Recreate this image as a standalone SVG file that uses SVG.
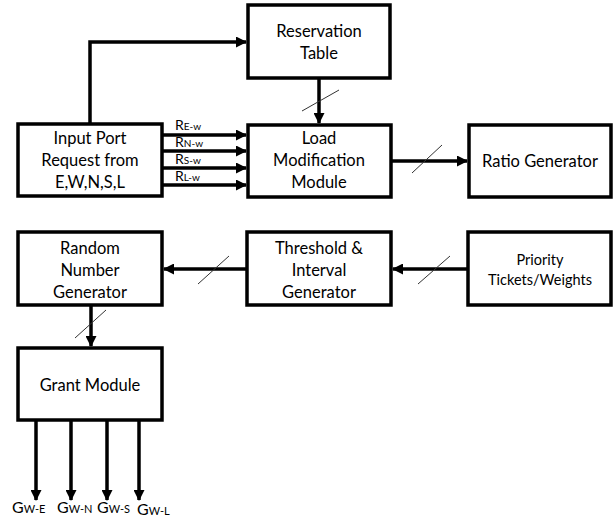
<svg xmlns="http://www.w3.org/2000/svg" width="613" height="518" viewBox="0 0 613 518">
  <style>
    .box { fill: #fff; stroke: #000; stroke-width: 3.5; }
    .lbl { font-family: Lato, "Liberation Sans", sans-serif; font-size: 16.5px; fill: #000; text-anchor: middle; }
    .small { font-size: 14.5px; }
    .sig { font-family: Lato, "Liberation Sans", sans-serif; font-size: 14px; fill: #000; }
    .gsig { font-family: Lato, "Liberation Sans", sans-serif; font-size: 16px; fill: #000; }
    .sub { font-size: 10px; }
    .gsub { font-size: 11px; }
    .wire { fill: none; stroke: #000; stroke-width: 3.5; }
    .slash { stroke: #333; stroke-width: 1; }
  </style>
  <defs>
    <marker id="arrow" markerUnits="userSpaceOnUse" markerWidth="11" markerHeight="11" refX="10" refY="5.5" orient="auto">
      <path d="M0,0 L11,5.5 L0,11 z" fill="#000"/>
    </marker>
  </defs>

  <g id="connectors">
    <!-- request path up to the reservation table -->
    <path class="wire" d="M90,124 V42 H246" stroke-width="4" marker-end="url(#arrow)"/>
    <!-- reservation table to load modification -->
    <line class="wire" x1="319" y1="78" x2="319" y2="123" marker-end="url(#arrow)"/>
    <line class="slash" x1="302" y1="111" x2="339" y2="90"/>
    <!-- per-direction requests -->
    <line class="wire" x1="162" y1="135" x2="246" y2="135" stroke-width="3" marker-end="url(#arrow)"/>
    <line class="wire" x1="162" y1="151" x2="246" y2="151" stroke-width="3" marker-end="url(#arrow)"/>
    <line class="wire" x1="162" y1="168" x2="246" y2="168" stroke-width="3" marker-end="url(#arrow)"/>
    <line class="wire" x1="162" y1="185" x2="246" y2="185" stroke-width="3" marker-end="url(#arrow)"/>
    <!-- load modification to ratio generator -->
    <line class="wire" x1="391" y1="161" x2="467" y2="161" marker-end="url(#arrow)"/>
    <line class="slash" x1="412" y1="173" x2="442" y2="145"/>
    <!-- priority to threshold -->
    <line class="wire" x1="468" y1="269" x2="393" y2="269" marker-end="url(#arrow)"/>
    <line class="slash" x1="418" y1="284" x2="450" y2="256"/>
    <!-- threshold to random number generator -->
    <line class="wire" x1="247" y1="269" x2="164" y2="269" marker-end="url(#arrow)"/>
    <line class="slash" x1="198" y1="284" x2="229" y2="256"/>
    <!-- random number generator to grant module -->
    <line class="wire" x1="91" y1="305" x2="91" y2="346" marker-end="url(#arrow)"/>
    <line class="slash" x1="75" y1="338" x2="106" y2="310"/>
    <!-- grant outputs -->
    <line class="wire" x1="36" y1="420" x2="36" y2="500" marker-end="url(#arrow)"/>
    <line class="wire" x1="71" y1="420" x2="71" y2="500" marker-end="url(#arrow)"/>
    <line class="wire" x1="107" y1="420" x2="107" y2="500" marker-end="url(#arrow)"/>
    <line class="wire" x1="139" y1="420" x2="139" y2="500" marker-end="url(#arrow)"/>
  </g>

  <g id="signal-labels">
    <text class="sig" x="175" y="130">R<tspan class="sub">E-w</tspan></text>
    <text class="sig" x="175" y="147">R<tspan class="sub">N-w</tspan></text>
    <text class="sig" x="175" y="164">R<tspan class="sub">S-w</tspan></text>
    <text class="sig" x="175" y="181">R<tspan class="sub">L-w</tspan></text>
    <text class="gsig" x="12" y="513">G<tspan class="gsub">W-E</tspan></text>
    <text class="gsig" x="57" y="513">G<tspan class="gsub">W-N</tspan></text>
    <text class="gsig" x="97" y="513">G<tspan class="gsub">W-S</tspan></text>
    <text class="gsig" x="137" y="515">G<tspan class="gsub">W-L</tspan></text>
  </g>

  <g id="reservation-table">
    <rect class="box" x="248" y="5" width="142" height="73"/>
    <text class="lbl" x="319" y="37">Reservation</text>
    <text class="lbl" x="319" y="59">Table</text>
  </g>

  <g id="input-port">
    <rect class="box" x="18" y="124" width="144" height="72"/>
    <text class="lbl" x="90" y="144">Input Port</text>
    <text class="lbl" x="90" y="166">Request from</text>
    <text class="lbl" x="90" y="188">E,W,N,S,L</text>
  </g>

  <g id="load-modification">
    <rect class="box" x="248" y="125" width="143" height="72"/>
    <text class="lbl" x="319" y="144">Load</text>
    <text class="lbl" x="319" y="166">Modification</text>
    <text class="lbl" x="319" y="188">Module</text>
  </g>

  <g id="ratio-generator">
    <rect class="box" x="469" y="125" width="142" height="72"/>
    <text class="lbl" x="540" y="167">Ratio Generator</text>
  </g>

  <g id="random-number-generator">
    <rect class="box" x="18" y="232" width="144" height="73"/>
    <text class="lbl" x="90" y="254">Random</text>
    <text class="lbl" x="90" y="276">Number</text>
    <text class="lbl" x="90" y="298">Generator</text>
  </g>

  <g id="threshold-interval">
    <rect class="box" x="247" y="232" width="144" height="73"/>
    <text class="lbl" x="319" y="254">Threshold &amp;</text>
    <text class="lbl" x="319" y="276">Interval</text>
    <text class="lbl" x="319" y="298">Generator</text>
  </g>

  <g id="priority">
    <rect class="box" x="468" y="232" width="143" height="73"/>
    <text class="lbl small" x="540" y="265">Priority</text>
    <text class="lbl small" x="540" y="285">Tickets/Weights</text>
  </g>

  <g id="grant-module">
    <rect class="box" x="18" y="348" width="144" height="72"/>
    <text class="lbl" x="90" y="391">Grant Module</text>
  </g>
</svg>
